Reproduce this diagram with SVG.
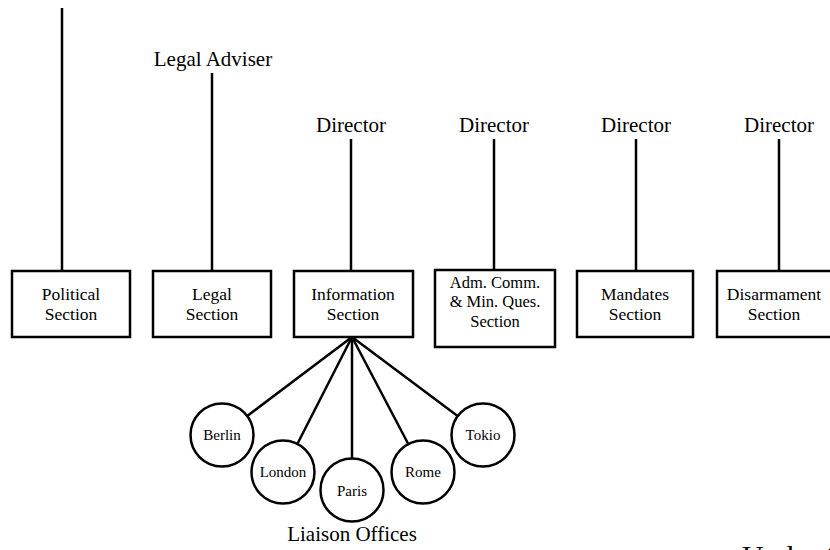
<svg xmlns="http://www.w3.org/2000/svg" width="830" height="550" viewBox="0 0 830 550">
<style>
.box{fill:#fff;stroke:#000;stroke-width:2.5}
.circ{fill:#fff;stroke:#000;stroke-width:2.5}
.ln{stroke:#000;stroke-width:2.5;fill:none}
text{font-family:"Liberation Serif","Times New Roman",serif;fill:#000;text-anchor:middle}
.lbl{font-family:"Liberation Serif","Times New Roman",serif;font-size:17.5px}
.sm{font-family:"Liberation Serif","Times New Roman",serif;font-size:16.5px}
.cl{font-family:"Liberation Serif","Times New Roman",serif;font-size:15px}
.hd{font-family:"Liberation Serif","Times New Roman",serif;font-size:21px}
</style>
<rect width="830" height="550" fill="#fff"/>
<g id="connectors">
<line class="ln" x1="62" y1="8" x2="62" y2="271"/>
<line class="ln" x1="212" y1="73" x2="212" y2="271"/>
<line class="ln" x1="351" y1="139" x2="351" y2="271"/>
<line class="ln" x1="494" y1="139" x2="494" y2="270"/>
<line class="ln" x1="636" y1="139" x2="636" y2="271"/>
<line class="ln" x1="779" y1="139" x2="779" y2="271"/>
<line class="ln" x1="352" y1="337" x2="222" y2="435"/>
<line class="ln" x1="352" y1="337" x2="283" y2="472"/>
<line class="ln" x1="352" y1="337" x2="352" y2="490"/>
<line class="ln" x1="352" y1="337" x2="423" y2="472"/>
<line class="ln" x1="352" y1="337" x2="483" y2="435"/>
</g>
<g font-family="'Liberation Serif', 'Times New Roman', serif">
<g id="legal-adviser"><text class="hd" x="213" y="66">Legal Adviser</text></g>
<g id="director-info"><text class="hd" x="351" y="132">Director</text></g>
<g id="director-adm"><text class="hd" x="494" y="132">Director</text></g>
<g id="director-mandates"><text class="hd" x="636" y="132">Director</text></g>
<g id="director-disarmament"><text class="hd" x="779" y="132">Director</text></g>
<g id="political"><rect class="box" x="12" y="271" width="118" height="66"/><text class="lbl" x="71" y="300">Political</text><text class="lbl" x="71" y="320">Section</text></g>
<g id="legal"><rect class="box" x="153" y="271" width="118" height="66"/><text class="lbl" x="212" y="300">Legal</text><text class="lbl" x="212" y="320">Section</text></g>
<g id="information"><rect class="box" x="294" y="271" width="119" height="66"/><text class="lbl" x="353" y="300">Information</text><text class="lbl" x="353" y="320">Section</text></g>
<g id="adm"><rect class="box" x="435" y="270" width="120" height="77"/><text class="sm" x="495" y="288">Adm. Comm.</text><text class="sm" x="495" y="307">&amp; Min. Ques.</text><text class="sm" x="495" y="327">Section</text></g>
<g id="mandates"><rect class="box" x="577" y="271" width="116" height="66"/><text class="lbl" x="635" y="300">Mandates</text><text class="lbl" x="635" y="320">Section</text></g>
<g id="disarmament"><rect class="box" x="717" y="271" width="118" height="66"/><text class="lbl" x="774" y="300">Disarmament</text><text class="lbl" x="774" y="320">Section</text></g>
<g id="berlin"><circle class="circ" cx="222" cy="435" r="31.5"/><text class="cl" x="222" y="440">Berlin</text></g>
<g id="london"><circle class="circ" cx="283" cy="472" r="31.5"/><text class="cl" x="283" y="477">London</text></g>
<g id="paris"><circle class="circ" cx="352" cy="490" r="31.5"/><text class="cl" x="352" y="496">Paris</text></g>
<g id="rome"><circle class="circ" cx="423" cy="472" r="31.5"/><text class="cl" x="423" y="477">Rome</text></g>
<g id="tokio"><circle class="circ" cx="483" cy="435" r="31.5"/><text class="cl" x="483" y="440">Tokio</text></g>
<g id="liaison"><text class="hd" x="352" y="541">Liaison Offices</text></g>
<g id="under"><text x="742" y="566" style="font-size:30px;text-anchor:start">Under-Secretary-General</text></g>
</g>
</svg>
